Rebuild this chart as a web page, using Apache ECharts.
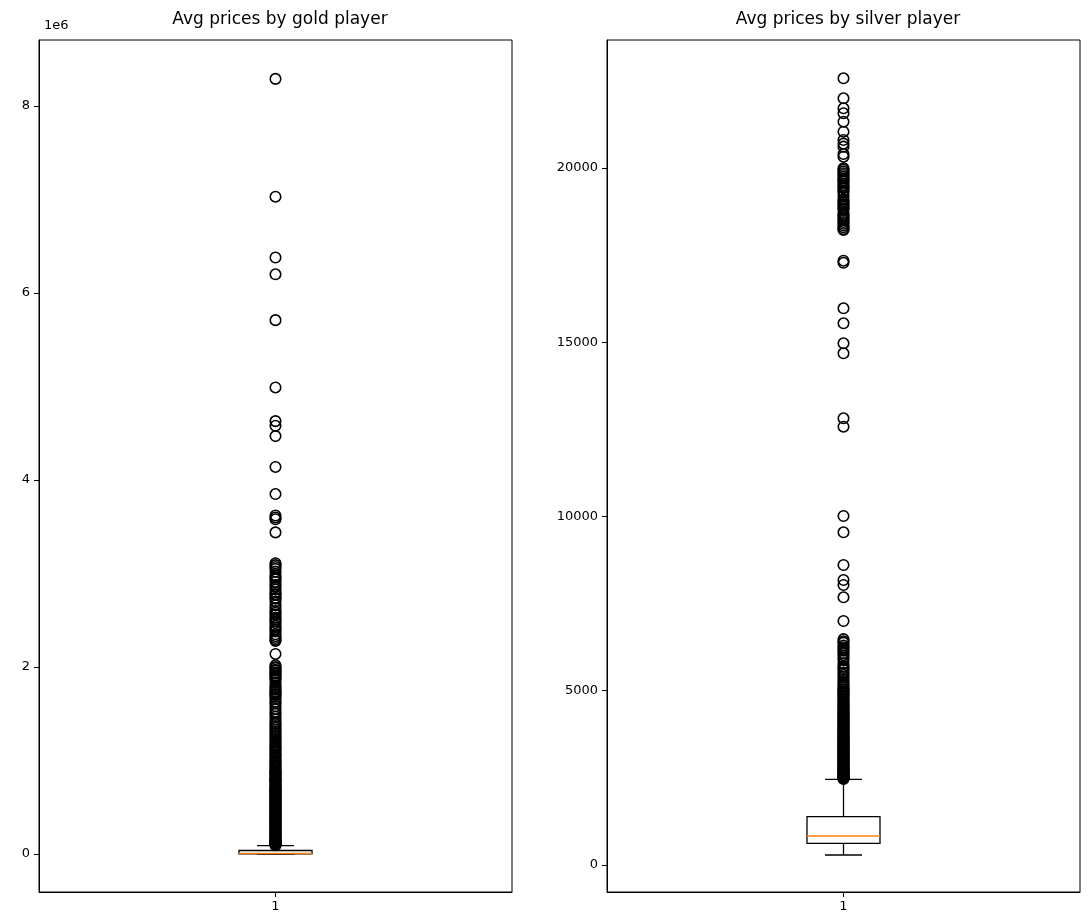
<!DOCTYPE html>
<html>
<head>
<meta charset="utf-8">
<title>Avg prices by player</title>
<script src="https://cdn.jsdelivr.net/npm/echarts@6/dist/echarts.min.js"></script>
<style>
  html, body { margin: 0; padding: 0; background: #fff; }
  #chart { width: 1091px; height: 924px; }
</style>
</head>
<body>
<div id="chart"></div>
<script>
// Category shared by both panels
const categories = ['1'];

// Box statistics: [lower whisker, Q1, median, Q3, upper whisker]
const goldBox = [500, 1500, 6000, 38000, 90000];
const silverBox = [287, 623, 832, 1386, 2459];

// Gold outliers, in thousands
const goldOutliersK = [
  8290, 7030, 6380, 6200, 5710, 4990, 4630, 4580, 4470, 4140, 3850, 3620, 3600, 3580, 3440,
  3110, 3090, 3070, 3050, 3020, 2980, 2960, 2940, 2910, 2880, 2860, 2830, 2800, 2780, 2770,
  2740, 2730, 2700, 2660, 2630, 2600, 2580, 2560, 2530, 2510, 2490, 2470, 2440, 2420, 2400,
  2380, 2350, 2330, 2310, 2290, 2280, 2140, 2020, 2000, 1990, 1970, 1960, 1940, 1930, 1910,
  1900, 1880, 1860, 1830, 1800, 1780, 1760, 1740, 1730, 1710, 1700, 1680, 1660, 1630, 1610,
  1580, 1550, 1520, 1500, 1470, 1440, 1410, 1390, 1370, 1350, 1330, 1310, 1290, 1270, 1250,
  1230, 1210, 1190, 1170, 1150, 1130, 1120, 1100, 1080, 1060, 1050, 1030, 1010, 995, 980,
  965, 950, 935, 920, 905, 890, 880, 870, 860, 850, 835, 820, 810, 800, 790, 780, 770, 760,
  745, 730, 720, 710, 700, 690, 680, 670, 660, 650, 640, 630, 620, 610, 600, 590, 580, 570,
  560, 550, 540, 530, 520, 510, 500, 490, 480, 470, 460, 450, 440, 430, 420, 410, 400, 390,
  380, 370, 360, 350, 340, 330, 320, 310, 300, 290, 280, 270, 260, 250, 240, 230, 220, 210,
  200, 190, 180, 170, 160, 150, 145, 140, 135, 130, 125, 120, 115, 110, 105, 100, 95
];

// Silver outliers
const silverOutliers = [
  22574, 22000, 21713, 21570, 21329, 21042, 20803, 20700, 20612, 20400, 20325,
  19990, 19950, 19900, 19850, 19800, 19750, 19700, 19650, 19620, 19550, 19500, 19450,
  19420, 19350, 19300, 19200, 19100, 19050, 19000, 18950, 18900, 18850, 18800, 18700,
  18650, 18600, 18550, 18500, 18450, 18400, 18350, 18300, 18250, 18221,
  17340, 17280, 15974, 15544, 14970, 14683, 12818, 12577, 10014, 9547, 8608, 8178,
  8034, 7681, 7001,
  6480, 6420, 6380, 6300, 6250, 6200, 6150, 6080, 6020, 5950, 5880, 5780, 5700, 5650,
  5600, 5520, 5460, 5400, 5320, 5260, 5200, 5150, 5100, 5050, 5020, 4980, 4950, 4910,
  4870, 4830, 4780, 4740, 4700, 4660, 4620, 4580, 4550, 4510, 4480, 4440, 4400, 4370,
  4330, 4300, 4260, 4230, 4200, 4160, 4130, 4100, 4070, 4040, 4000, 3970, 3940, 3910,
  3880, 3850, 3820, 3790, 3760, 3730, 3700, 3680, 3650, 3620, 3590, 3560, 3540, 3510,
  3480, 3450, 3430, 3400, 3380, 3350, 3320, 3300, 3270, 3240, 3220, 3190, 3170, 3140,
  3120, 3090, 3070, 3040, 3020, 2990, 2970, 2940, 2920, 2890, 2870, 2840, 2820, 2790,
  2770, 2740, 2720, 2700, 2680, 2660, 2640, 2620, 2600, 2580, 2560, 2540, 2530, 2510,
  2500, 2490, 2480, 2470
];

// Tick positions
const goldTicks = [0, 2000000, 4000000, 6000000, 8000000];
const silverTicks = [0, 5000, 10000, 15000, 20000];

const titles = ['Avg prices by gold player', 'Avg prices by silver player'];

const FONT = 'DejaVu Sans';

// Draws a box with black box and whiskers, half-width caps and an orange median
function renderBox(params, api) {
  const x = api.value(0);
  const pMin = api.coord([x, api.value(1)]);
  const pQ1 = api.coord([x, api.value(2)]);
  const pMed = api.coord([x, api.value(3)]);
  const pQ3 = api.coord([x, api.value(4)]);
  const pMax = api.coord([x, api.value(5)]);
  const cx = pMed[0];
  const half = 36.5;
  const capHalf = 18.5;
  const line = { stroke: '#000', lineWidth: 1.3 };
  return {
    type: 'group',
    children: [
      { type: 'line', shape: { x1: cx, y1: pQ1[1], x2: cx, y2: pMin[1] }, style: line },
      { type: 'line', shape: { x1: cx, y1: pQ3[1], x2: cx, y2: pMax[1] }, style: line },
      { type: 'line', shape: { x1: cx - capHalf, y1: pMin[1], x2: cx + capHalf, y2: pMin[1] }, style: line },
      { type: 'line', shape: { x1: cx - capHalf, y1: pMax[1], x2: cx + capHalf, y2: pMax[1] }, style: line },
      { type: 'rect', shape: { x: cx - half, y: pQ3[1], width: half * 2, height: pQ1[1] - pQ3[1] },
        style: { fill: 'none', stroke: '#000', lineWidth: 1.3 } },
      { type: 'line', shape: { x1: cx - half, y1: pMed[1], x2: cx + half, y2: pMed[1] },
        style: { stroke: '#ff7f0e', lineWidth: 1.6 } }
    ]
  };
}

function yAxisCfg(gridIndex, min, max, ticks, fmt) {
  return {
    type: 'value', gridIndex, min, max,
    splitLine: { show: false },
    axisLine: { show: true, onZero: false, lineStyle: { color: '#000', width: 1 } },
    axisTick: { show: true, length: 5, customValues: ticks, lineStyle: { color: '#000' } },
    axisLabel: { customValues: ticks, formatter: fmt, color: '#000', fontFamily: FONT, fontSize: 13, margin: 9 }
  };
}

function xAxisCfg(gridIndex) {
  return {
    type: 'category', gridIndex, data: categories, boundaryGap: true,
    axisLine: { show: true, onZero: false, lineStyle: { color: '#000', width: 1 } },
    axisTick: { show: true, alignWithLabel: true, length: 5, lineStyle: { color: '#000' } },
    axisLabel: { color: '#000', fontFamily: FONT, fontSize: 13, margin: 8 }
  };
}

function flierSeries(axisIndex, values) {
  return {
    type: 'scatter', xAxisIndex: axisIndex, yAxisIndex: axisIndex,
    symbol: 'circle', symbolSize: 10.5,
    itemStyle: { color: 'rgba(0,0,0,0)', borderColor: '#000', borderWidth: 1.6, opacity: 1 },
    data: values.map(v => [0, v]), z: 3
  };
}

const chart = echarts.init(document.getElementById('chart'), null, { renderer: 'canvas' });

chart.setOption({
  backgroundColor: '#fff',
  animation: false,
  title: [
    { text: titles[0], left: 275, top: 6, textAlign: 'center',
      textStyle: { fontFamily: FONT, fontWeight: 'normal', fontSize: 17, color: '#000' } },
    { text: titles[1], left: 843, top: 6, textAlign: 'center',
      textStyle: { fontFamily: FONT, fontWeight: 'normal', fontSize: 17, color: '#000' } },
    { text: '1e6', left: 39, top: 14,
      textStyle: { fontFamily: FONT, fontWeight: 'normal', fontSize: 13, color: '#000' } }
  ],
  grid: [
    { left: 39, top: 40, width: 473, height: 852, show: true, borderColor: '#000', borderWidth: 1, backgroundColor: 'transparent' },
    { left: 607, top: 40, width: 473, height: 852, show: true, borderColor: '#000', borderWidth: 1, backgroundColor: 'transparent' }
  ],
  xAxis: [xAxisCfg(0), xAxisCfg(1)],
  yAxis: [
    yAxisCfg(0, -406000, 8706000, goldTicks, v => String(v / 1000000)),
    yAxisCfg(1, -775, 23673, silverTicks, v => String(v))
  ],
  series: [
    {
      type: 'custom', xAxisIndex: 0, yAxisIndex: 0, renderItem: renderBox,
      encode: { x: 0, y: [1, 2, 3, 4, 5] },
      data: [[0].concat(goldBox)], z: 2
    },
    {
      type: 'custom', xAxisIndex: 1, yAxisIndex: 1, renderItem: renderBox,
      encode: { x: 0, y: [1, 2, 3, 4, 5] },
      data: [[0].concat(silverBox)], z: 2
    },
    flierSeries(0, goldOutliersK.map(k => k * 1000)),
    flierSeries(1, silverOutliers)
  ]
});
</script>
</body>
</html>
